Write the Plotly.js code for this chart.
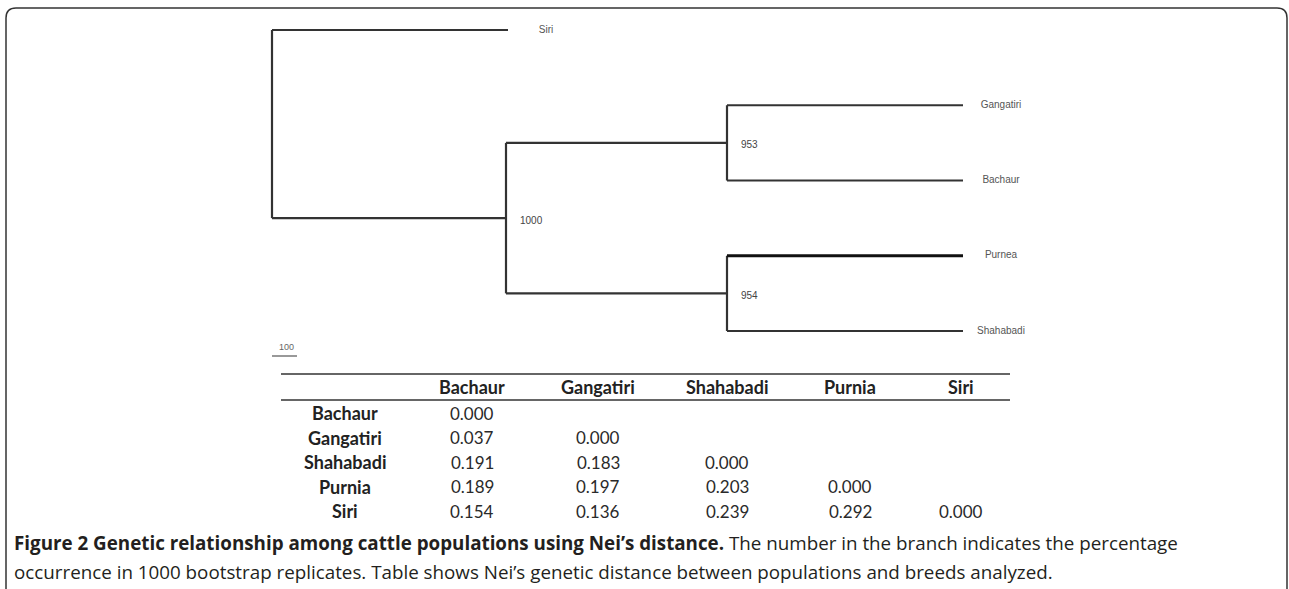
<!DOCTYPE html>
<html>
<head>
<meta charset="utf-8">
<script src="https://cdn.plot.ly/plotly-3.0.1.min.js"></script>
<style>html,body{margin:0;padding:0;background:#fff;}#chart{width:1289px;height:589px;}</style>
</head>
<body>
<div id="chart"></div>
<script>
// ---------- DATA ----------
const leafOrder = ["Siri", "Gangatiri", "Bachaur", "Purnea", "Shahabadi"];
const nodeNames = ["Siri", "A", "B1", "B2", "Gangatiri", "Bachaur", "Purnea", "Shahabadi"];
const nodeParents = ["root", "root", "A", "A", "B1", "B1", "B2", "B2"];
const branchLengths = [944, 936, 884, 884, 944, 944, 944, 944];
const bootstrapNodes = ["A", "B1", "B2"];
const bootstrapValues = [1000, 953, 954];
const scaleBarLength = 100;

const tableCols = ["Bachaur", "Gangatiri", "Shahabadi", "Purnia", "Siri"];
const tableRows = ["Bachaur", "Gangatiri", "Shahabadi", "Purnia", "Siri"];
const distBachaur = ["0.000", "0.037", "0.191", "0.189", "0.154"];
const distGangatiri = ["", "0.000", "0.183", "0.197", "0.136"];
const distShahabadi = ["", "", "0.000", "0.203", "0.239"];
const distPurnia = ["", "", "", "0.000", "0.292"];
const distSiri = ["", "", "", "", "0.000"];

const captionBold = "Figure 2 Genetic relationship among cattle populations using Nei’s distance.";
const captionRest1 = " The number in the branch indicates the percentage";
const captionLine2 = "occurrence in 1000 bootstrap replicates. Table shows Nei’s genetic distance between populations and breeds analyzed.";

// ---------- LAYOUT CONSTANTS ----------
const W = 1289, H = 589;
const rootPx = 272, pxPerUnit = 0.25;        // x scale of tree
const leaf0Px = 30, pxPerLeaf = 75.25;       // y scale of tree
const px2x = px => (px - rootPx) / pxPerUnit;
const py2y = py => (py - leaf0Px) / pxPerLeaf;
const PX = px => px / W;
const PY = py => 1 - py / H;

// ---------- TREE GEOMETRY ----------
const nodeX = {root: 0};
const nodeY = {};
const children = {};
nodeNames.forEach((n, i) => {
  const p = nodeParents[i];
  (children[p] = children[p] || []).push(n);
});
function calcX(n) {
  if (nodeX[n] !== undefined) return nodeX[n];
  const i = nodeNames.indexOf(n);
  nodeX[n] = calcX(nodeParents[i]) + branchLengths[i];
  return nodeX[n];
}
nodeNames.forEach(calcX);
function calcY(n) {
  if (nodeY[n] !== undefined) return nodeY[n];
  if (leafOrder.includes(n)) { nodeY[n] = leafOrder.indexOf(n); return nodeY[n]; }
  const ys = children[n].map(calcY);
  nodeY[n] = (Math.min(...ys) + Math.max(...ys)) / 2;
  return nodeY[n];
}
calcY("root");

const lx = [], ly = [];
const ex = [], ey = [];
nodeNames.forEach((n, i) => {
  const p = nodeParents[i];
  const tx = (n === "Purnea") ? ex : lx, ty = (n === "Purnea") ? ey : ly;
  tx.push(nodeX[p], nodeX[n], null);
  ty.push(nodeY[n], nodeY[n], null);
});
Object.keys(children).forEach(p => {
  const ys = children[p].map(c => nodeY[c]);
  lx.push(nodeX[p], nodeX[p], null);
  ly.push(Math.min(...ys), Math.max(...ys), null);
});

const traces = [
  {x: lx, y: ly, mode: "lines", line: {color: "#333", width: 2.2}, hoverinfo: "skip"},
  {x: ex, y: ey, mode: "lines", line: {color: "#111", width: 3}, hoverinfo: "skip"},
  {x: leafOrder.map(n => nodeX[n] + 38 / pxPerUnit), y: leafOrder.map(n => nodeY[n]),
   mode: "text", text: leafOrder, textposition: "middle center",
   textfont: {family: "Liberation Sans, Arial, sans-serif", size: 10, color: "#555"}, hoverinfo: "skip"},
  // scale bar
  {x: [0, scaleBarLength], y: [py2y(356), py2y(356)], mode: "lines",
   line: {color: "#777", width: 1.5}, hoverinfo: "skip"}
];

const annotations = [];
bootstrapNodes.forEach((n, i) => {
  annotations.push({x: nodeX[n], y: nodeY[n], xref: "x", yref: "y", text: String(bootstrapValues[i]),
    showarrow: false, xanchor: "left", yanchor: "middle", xshift: 12, yshift: -2,
    font: {family: "Liberation Sans, Arial, sans-serif", size: 10, color: "#444"}});
});
annotations.push({x: scaleBarLength / 2, y: py2y(356), xref: "x", yref: "y", text: String(scaleBarLength),
  showarrow: false, xanchor: "center", yanchor: "bottom", yshift: 2, xshift: 2,
  font: {family: "Liberation Sans, Arial, sans-serif", size: 9, color: "#666"}});

// ---------- TABLE ----------
const colX = [472, 598, 727, 850, 961];
const rowLabelX = 345;
const headerY = 387;
const rowY = [413, 437.5, 462, 486.5, 511];
const valueColX = [472, 598, 727, 850, 961];
const distCols = [distBachaur, distGangatiri, distShahabadi, distPurnia, distSiri];
const tFont = {family: "Lato, Open Sans, sans-serif", size: 17, color: "#2a2a2a"};
const tBold = {family: "Lato, Open Sans, sans-serif", size: 18, color: "#222"};
tableCols.forEach((c, j) => {
  annotations.push({x: PX(colX[j]), y: PY(headerY), xref: "paper", yref: "paper", text: "<b>" + c + "</b>",
    showarrow: false, xanchor: "center", yanchor: "middle", font: tBold});
});
tableRows.forEach((r, i) => {
  annotations.push({x: PX(rowLabelX), y: PY(rowY[i]), xref: "paper", yref: "paper", text: "<b>" + r + "</b>",
    showarrow: false, xanchor: "center", yanchor: "middle", font: tBold});
  distCols.forEach((col, j) => {
    if (col[i] !== "") annotations.push({x: PX(valueColX[j]), y: PY(rowY[i]), xref: "paper", yref: "paper",
      text: col[i], showarrow: false, xanchor: "center", yanchor: "middle", font: tFont});
  });
});

// ---------- CAPTION ----------
const capFont = {family: "Open Sans, sans-serif", size: 18.8, color: "#231f20"};
annotations.push({x: PX(12), y: PY(543), xref: "paper", yref: "paper", xanchor: "left", yanchor: "middle",
  showarrow: false, align: "left", text: "<b>" + captionBold + "</b>" + captionRest1, font: capFont});
annotations.push({x: PX(12), y: PY(572), xref: "paper", yref: "paper", xanchor: "left", yanchor: "middle",
  showarrow: false, align: "left", text: captionLine2, font: capFont});

// ---------- SHAPES ----------
const r = 10, L = 6, T = 8, R = 1287, B = 595;
function P(px, py) { return PX(px) + "," + PY(py); }
const framePath = "M" + P(L, B) + " L" + P(L, T + r) + " Q" + P(L, T) + " " + P(L + r, T) +
  " L" + P(R - r, T) + " Q" + P(R, T) + " " + P(R, T + r) + " L" + P(R, B);
const shapes = [
  {type: "path", xref: "paper", yref: "paper", path: framePath, line: {color: "#333", width: 1.5}},
  {type: "line", xref: "paper", yref: "paper", x0: PX(281), x1: PX(1010), y0: PY(374), y1: PY(374), line: {color: "#333", width: 1.6}},
  {type: "line", xref: "paper", yref: "paper", x0: PX(281), x1: PX(1010), y0: PY(400), y1: PY(400), line: {color: "#333", width: 1.6}}
];

const layout = {
  width: W, height: H, margin: {l: 0, r: 0, t: 0, b: 0},
  paper_bgcolor: "#fff", plot_bgcolor: "#fff", showlegend: false,
  xaxis: {range: [px2x(0), px2x(W)], visible: false, fixedrange: true},
  yaxis: {range: [py2y(H), py2y(0)], visible: false, fixedrange: true},
  annotations: annotations, shapes: shapes
};
Plotly.newPlot("chart", traces, layout, {staticPlot: true, displayModeBar: false});
</script>
</body>
</html>
